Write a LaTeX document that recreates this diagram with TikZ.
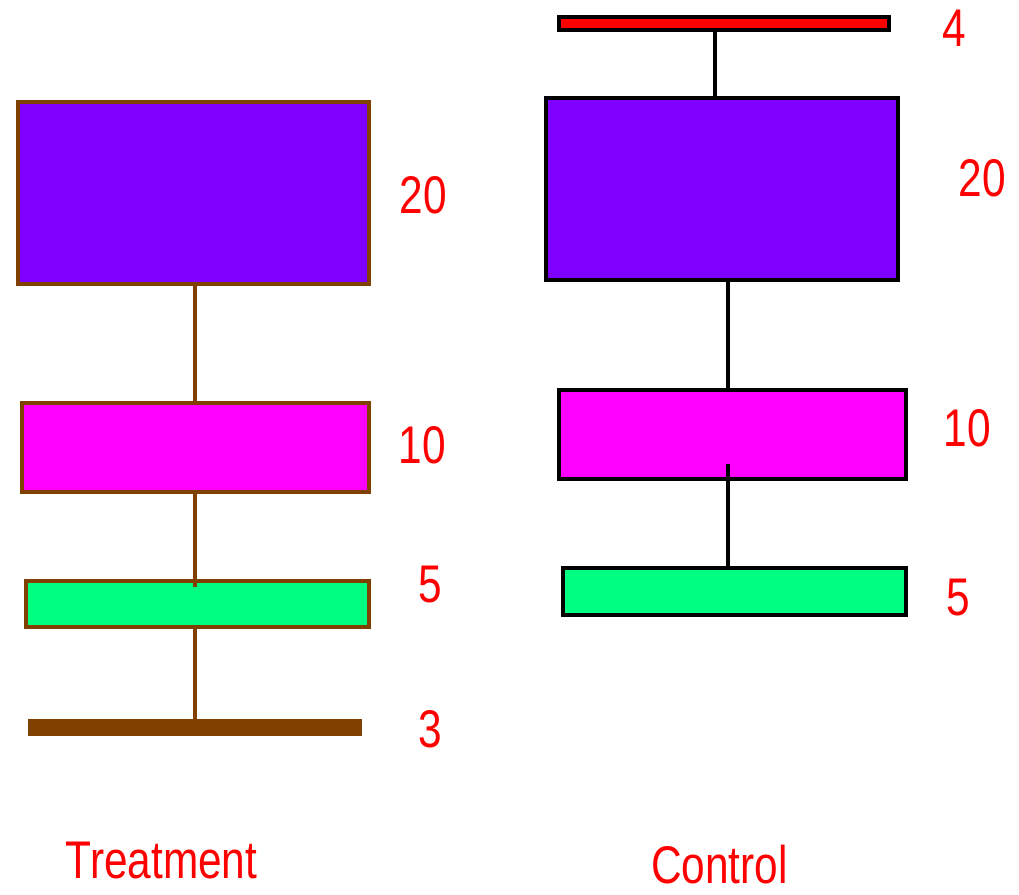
\documentclass[tikz,border=0pt]{standalone}
\usepackage{fontspec}
\setmainfont{Liberation Sans}
\definecolor{tbrown}{HTML}{804000}
\definecolor{tpurple}{HTML}{8000FF}
\definecolor{tmagenta}{HTML}{FF00FF}
\definecolor{tgreen}{HTML}{00FF80}
\definecolor{tred}{HTML}{FF0000}
\begin{document}
\begin{tikzpicture}[x=1pt,y=-1pt,
  bx/.style={rectangle,inner sep=0pt,outer sep=0pt,line width=4pt},
  tbox/.style={bx,draw=tbrown},
  cbox/.style={bx,draw=black},
  tlink/.style={draw=tbrown,line width=3.5pt},
  clink/.style={draw=black,line width=4.5pt},
  lab/.style={text=tred,font=\fontsize{53}{53}\selectfont,inner sep=0pt,xscale=0.8}
]
\useasboundingbox (0,0) rectangle (1019,894);
% Treatment
\node[tbox,fill=tpurple,minimum width=351pt,minimum height=182pt] (tp) at (193.5,193) {};
\node[tbox,fill=tmagenta,minimum width=347pt,minimum height=89pt] (tm) at (195.5,447.5) {};
\node[tbox,fill=tgreen,minimum width=343pt,minimum height=46pt] (tg) at (197.5,604) {};
\node[rectangle,inner sep=0pt,fill=tbrown,minimum width=334pt,minimum height=17pt] (tb) at (195,727.5) {};
\coordinate (tgin) at (195,587);
\draw[tlink] (tp.south -| tb) -- (tm.north -| tb);
\draw[tlink] (tm.south -| tb) -- (tgin);
\draw[tlink] (tg.south -| tb) -- (tb.north);
\node[lab] (t20) at (423.5,195) {20};
\node[lab] (t10) at (422,445) {10};
\node[lab] (t5) at (430,585) {5};
\node[lab] (t3) at (430,729) {3};
\node[lab] (tt) at (161.5,861) {Treatment};
% Control
\node[cbox,fill=tred,minimum width=330pt,minimum height=13pt] (cr) at (724,23.5) {};
\node[cbox,fill=tpurple,minimum width=351.7pt,minimum height=181.7pt] (cp) at (721.85,188.85) {};
\node[cbox,fill=tmagenta,minimum width=346.7pt,minimum height=88.7pt] (cm) at (732.35,434.35) {};
\node[cbox,fill=tgreen,minimum width=342.7pt,minimum height=47pt] (cg) at (734.35,591.5) {};
\coordinate (cx1) at (715,0);
\coordinate (cx2) at (728,0);
\coordinate (cmin) at (728,464);
\draw[clink] (cr.south -| cx1) -- (cp.north -| cx1);
\draw[clink] (cp.south -| cx2) -- (cm.north -| cx2);
\draw[clink] (cmin) -- (cg.north -| cx2);
\node[lab] (c4) at (954,28) {4};
\node[lab] (c20) at (982,178) {20};
\node[lab] (c10) at (967,428.5) {10};
\node[lab] (c5) at (958,598) {5};
\node[lab] (cc) at (719.5,864.5) {Control};
\end{tikzpicture}
\end{document}
